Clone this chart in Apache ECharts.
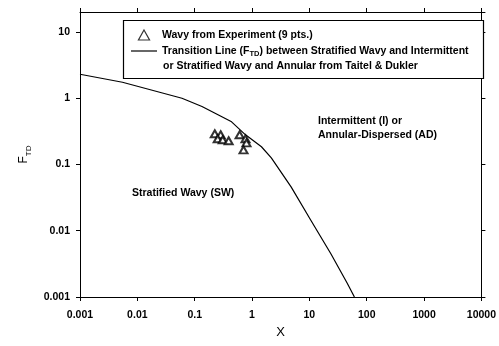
<!DOCTYPE html>
<html>
<head>
<meta charset="utf-8">
<script src="https://cdn.jsdelivr.net/npm/echarts@6/dist/echarts.min.js"></script>
<style>
  html, body { margin: 0; padding: 0; background: #fff; }
  #chart { width: 499px; height: 346px; }
</style>
</head>
<body>
<div id="chart"></div>
<script>
// Wavy flow points measured in the experiment (X, F_TD)
const wavyX = [0.224, 0.284, 0.252, 0.308, 0.391, 0.607, 0.769, 0.80, 0.711];
const wavyF = [0.291, 0.281, 0.244, 0.236, 0.228, 0.281, 0.244, 0.212, 0.166];

// Taitel & Dukler transition line out of stratified wavy flow
const transX = [0.001, 0.0055, 0.06, 0.134, 0.44, 0.77, 1.46, 2.17, 4.8, 10.6, 23.7, 46, 61];
const transF = [2.3, 1.74, 1.0, 0.75, 0.44, 0.28, 0.185, 0.126, 0.046, 0.0144, 0.0045, 0.0016, 0.001];

// Decade tick labels
const xTickLabels = ['0.001', '0.01', '0.1', '1', '10', '100', '1000', '10000'];
const yTickLabels = ['0.001', '0.01', '0.1', '1', '10'];

const wavyName = 'Wavy from Experiment (9 pts.)';
const transName = 'Transition Line (FTD) between Stratified Wavy and Intermittent';
const transName2 = 'or Stratified Wavy and Annular from Taitel & Dukler';

const FONT = 'Liberation Sans, Arial, sans-serif';

function decadeLabel(labels, minExp) {
  return function (v) {
    const l = Math.log10(v);
    const e = Math.round(l);
    if (Math.abs(l - e) > 1e-6) return '';
    return labels[e - minExp] || '';
  };
}

const axisBase = {
  type: 'log',
  logBase: 10,
  interval: 1,
  axisLine: { show: true, onZero: false, lineStyle: { color: '#000', width: 1 } },
  axisTick: { show: true, inside: false, length: 4, lineStyle: { color: '#000', width: 1 } },
  minorTick: { show: false },
  splitLine: { show: false },
  minorSplitLine: { show: false }
};

const labelStyle = { color: '#000', fontFamily: FONT, fontWeight: 'bold', fontSize: 10.5 };

const chart = echarts.init(document.getElementById('chart'), null, { renderer: 'canvas' });

chart.setOption({
  animation: false,
  backgroundColor: '#fff',
  grid: { left: 80, right: 14, top: 12, bottom: 49, containLabel: false },
  xAxis: [
    Object.assign({}, axisBase, {
      position: 'bottom',
      min: 0.001, max: 10000,
      name: 'X',
      nameLocation: 'middle',
      nameGap: 28,
      nameTextStyle: { color: '#000', fontFamily: FONT, fontSize: 13 },
      axisLabel: Object.assign({ margin: 13, formatter: decadeLabel(xTickLabels, -3) }, labelStyle)
    }),
    Object.assign({}, axisBase, {
      position: 'top',
      min: 0.001, max: 10000,
      axisLabel: { show: false }
    })
  ],
  yAxis: [
    Object.assign({}, axisBase, {
      position: 'left',
      min: 0.001, max: 20,
      name: '{a|F}{b|TD}',
      nameLocation: 'middle',
      nameRotate: 90,
      nameGap: 46,
      nameTextStyle: {
        color: '#000',
        rich: {
          a: { fontFamily: FONT, fontSize: 12, lineHeight: 12, verticalAlign: 'top', color: '#000' },
          b: { fontFamily: FONT, fontSize: 8, lineHeight: 8, padding: [7, 0, 0, 0], verticalAlign: 'top', color: '#000' }
        }
      },
      axisLabel: Object.assign({ margin: 10, showMaxLabel: false, formatter: decadeLabel(yTickLabels, -3) }, labelStyle)
    }),
    Object.assign({}, axisBase, {
      position: 'right',
      min: 0.001, max: 20,
      axisLabel: { show: false }
    })
  ],
  legend: {
    orient: 'vertical',
    left: 131,
    top: 28,
    padding: 0,
    itemGap: 2,
    itemWidth: 26,
    itemHeight: 10,
    symbolKeepAspect: true,
    z: 6,
    selectedMode: false,
    data: [
      {
        name: wavyName,
        icon: 'path://M5 0 L10 9 L0 9 Z',
        itemStyle: { color: '#fff', borderColor: '#000', borderWidth: 1.2 }
      },
      {
        name: transName,
        icon: 'path://M0 0 H26 V1.2 H0 Z',
        itemStyle: { color: '#000', borderWidth: 0 },
        lineStyle: { width: 0 }
      }
    ],
    formatter: function (name) {
      return name === transName
        ? 'Transition Line (F{sub|TD}) between Stratified Wavy and Intermittent'
        : name;
    },
    textStyle: {
      color: '#000', fontFamily: FONT, fontWeight: 'bold', fontSize: 10.5, lineHeight: 14,
      rich: {
        sub: { color: '#000', fontFamily: FONT, fontWeight: 'bold', fontSize: 7.5, lineHeight: 14, padding: [5, 0, 0, 0] }
      }
    }
  },
  graphic: [
    {
      type: 'rect', z: 3,
      shape: { x: 123.5, y: 20.5, width: 360, height: 58 },
      style: { fill: '#fff', stroke: '#000', lineWidth: 1.2 }
    },
    {
      type: 'text', z: 6, x: 163, y: 66,
      style: { text: transName2, fill: '#000', font: 'bold 10.5px ' + FONT, verticalAlign: 'middle' }
    },
    {
      type: 'text', z: 6, x: 318, y: 121,
      style: { text: 'Intermittent (I) or', fill: '#000', font: 'bold 10.5px ' + FONT, verticalAlign: 'middle' }
    },
    {
      type: 'text', z: 6, x: 318, y: 135,
      style: { text: 'Annular-Dispersed (AD)', fill: '#000', font: 'bold 10.5px ' + FONT, verticalAlign: 'middle' }
    },
    {
      type: 'text', z: 6, x: 132, y: 193,
      style: { text: 'Stratified Wavy (SW)', fill: '#000', font: 'bold 10.5px ' + FONT, verticalAlign: 'middle' }
    }
  ],
  series: [
    {
      name: transName,
      type: 'line',
      xAxisIndex: 0, yAxisIndex: 0,
      data: transX.map((x, i) => [x, transF[i]]),
      symbol: 'none',
      smooth: false,
      lineStyle: { color: '#000', width: 1.2 },
      itemStyle: { color: '#000' },
      z: 2
    },
    {
      name: wavyName,
      type: 'scatter',
      xAxisIndex: 0, yAxisIndex: 0,
      data: wavyX.map((x, i) => [x, wavyF[i]]),
      symbol: 'emptyTriangle',
      symbolSize: [8, 7],
      itemStyle: { color: '#000', borderColor: '#000', borderWidth: 1.2 },
      z: 3
    }
  ]
});
</script>
</body>
</html>
